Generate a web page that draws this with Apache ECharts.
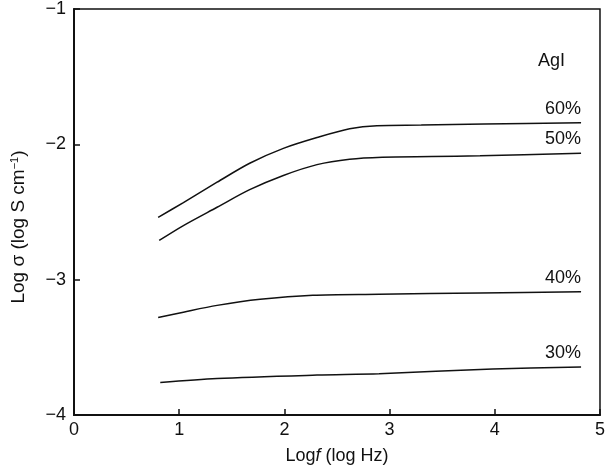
<!DOCTYPE html>
<html>
<head>
<meta charset="utf-8">
<script src="https://cdn.jsdelivr.net/npm/echarts@6/dist/echarts.min.js"></script>
<style>
  html, body { margin: 0; padding: 0; background: #fff; }
  #chart { width: 608px; height: 470px; }
</style>
</head>
<body>
<div id="chart"></div>
<script>
let chart = echarts.init(document.getElementById("chart"));

// log f (log Hz) and log sigma readings for each AgI content
let agi60x = [0.80, 1.04, 1.36, 1.67, 1.99, 2.31, 2.62, 2.88, 3.30, 3.90, 4.82];
let agi60y = [-2.54, -2.43, -2.28, -2.14, -2.03, -1.95, -1.885, -1.862, -1.858, -1.85, -1.84];

let agi50x = [0.81, 1.04, 1.36, 1.67, 1.99, 2.31, 2.62, 2.93, 3.40, 3.86, 4.82];
let agi50y = [-2.71, -2.60, -2.465, -2.335, -2.23, -2.15, -2.11, -2.095, -2.09, -2.085, -2.065];

let agi40x = [0.80, 1.04, 1.36, 1.77, 2.27, 2.90, 3.86, 4.82];
let agi40y = [-3.28, -3.24, -3.19, -3.145, -3.115, -3.108, -3.098, -3.09];

let agi30x = [0.82, 1.36, 2.31, 2.90, 3.98, 4.82];
let agi30y = [-3.76, -3.73, -3.705, -3.695, -3.66, -3.645];

let seriesNames = ['60%', '50%', '40%', '30%'];
let xTicks = [0, 1, 2, 3, 4, 5];
let yTicks = [-4, -3, -2, -1];

let font = 'Liberation Sans';

function pairs(xs, ys, name) {
    return xs.map(function (x, i) {
        let item = { value: [x, ys[i]] };
        if (i === xs.length - 1) {
            item.label = {
                show: true,
                formatter: name,
                position: 'top',
                align: 'right',
                offset: [-2, 0],
                color: '#111',
                fontSize: 18,
                fontFamily: font
            };
        }
        return item;
    });
}

let allX = [agi60x, agi50x, agi40x, agi30x];
let allY = [agi60y, agi50y, agi40y, agi30y];

let series = seriesNames.map(function (name, k) {
    return {
        name: name,
        type: 'line',
        smooth: 0.3,
        symbol: 'circle',
        symbolSize: 0,
        showSymbol: true,
        lineStyle: { color: '#111', width: 1.5 },
        itemStyle: { color: '#111' },
        labelLayout: { hideOverlap: false },
        data: pairs(allX[k], allY[k], name)
    };
});

let minus = function (v) { return String(v).replace('-', '\u2212'); };

let option = {
    animation: false,
    backgroundColor: '#fff',
    textStyle: { fontFamily: font },
    grid: {
        left: 74,
        right: 6,
        top: 9,
        bottom: 55,
        show: true,
        borderColor: '#111',
        borderWidth: 1.5
    },
    xAxis: {
        type: 'value',
        min: xTicks[0],
        max: xTicks[xTicks.length - 1],
        interval: 1,
        name: '{a|Log}{i|f}{a| (log Hz)}',
        nameLocation: 'middle',
        nameGap: 32,
        nameTextStyle: {
            rich: {
                a: { fontSize: 18, color: '#111', fontFamily: font },
                i: { fontSize: 18, color: '#111', fontStyle: 'italic', fontFamily: font }
            }
        },
        axisLine: { lineStyle: { color: '#111', width: 2 } },
        axisTick: { inside: true, length: 6, lineStyle: { color: '#111', width: 1.5 } },
        axisLabel: { color: '#111', fontSize: 18, fontFamily: font, margin: 6 },
        splitLine: { show: false }
    },
    yAxis: {
        type: 'value',
        min: yTicks[0],
        max: yTicks[yTicks.length - 1],
        interval: 1,
        name: '{a|Log \u03c3 (log S cm}{s|\u22121}{a|)}',
        nameLocation: 'middle',
        nameRotate: 90,
        nameGap: 46,
        nameTextStyle: {
            padding: [0, 30, 0, 0],
            rich: {
                a: { fontSize: 19, color: '#111', fontFamily: font },
                s: { fontSize: 11, color: '#111', verticalAlign: 'top', padding: [0, 0, 8, 0], fontFamily: font }
            }
        },
        axisLine: { lineStyle: { color: '#111', width: 2 } },
        axisTick: { inside: true, length: 6, lineStyle: { color: '#111', width: 1.5 } },
        axisLabel: { color: '#111', fontSize: 18, fontFamily: font, margin: 8, formatter: minus },
        splitLine: { show: false }
    },
    graphic: [{
        type: 'text',
        left: 538,
        top: 52,
        style: { text: 'AgI', fill: '#111', fontSize: 18, fontFamily: font }
    }],
    series: series
};

chart.setOption(option);
</script>
</body>
</html>
